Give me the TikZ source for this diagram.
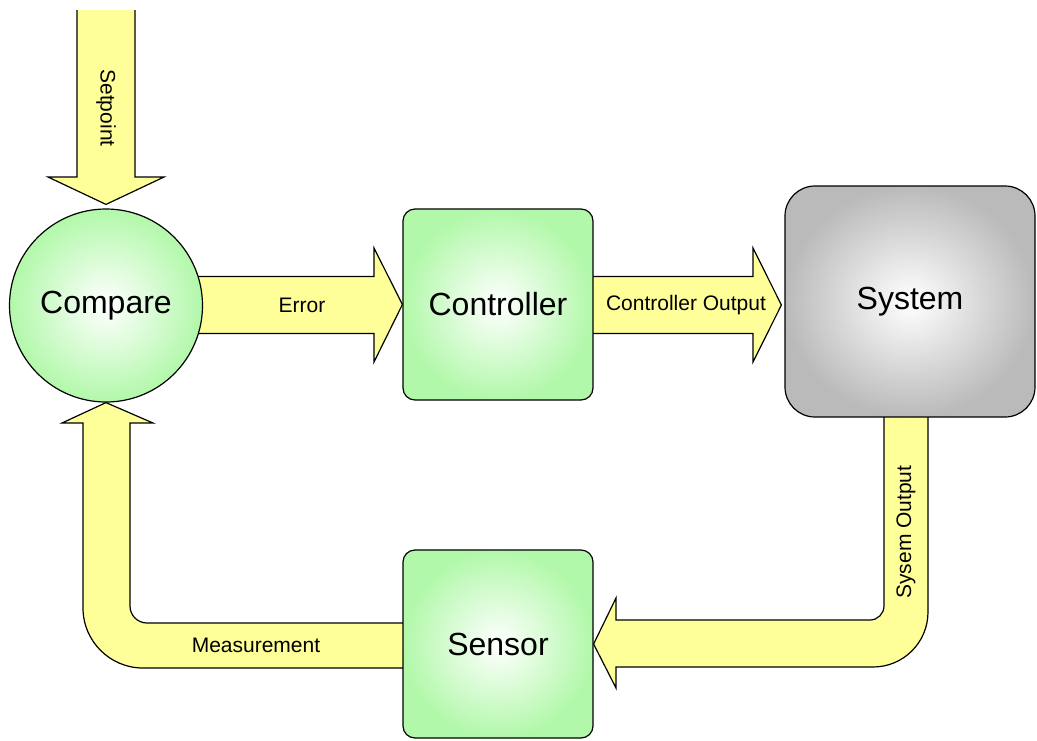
\documentclass[tikz,border=0pt]{standalone}
\usepackage{fontspec}
\setmainfont{Liberation Sans}
\usetikzlibrary{backgrounds,calc}
\definecolor{arrowyellow}{RGB}{255,255,153}
\definecolor{boxgreen}{RGB}{178,248,170}
\definecolor{boxgray}{RGB}{186,186,186}
\begin{document}
\begin{tikzpicture}[x=1pt, y=-1pt, line width=1.2pt,
  block/.style = {draw, rounded corners=12pt, inner sep=0pt,
    font=\fontsize{32}{38}\selectfont,
    shading=radial, inner color=white, outer color=boxgreen},
  sig/.style = {font=\fontsize{21}{25}\selectfont, inner sep=0pt},
  fatarrow/.style = {draw=black, line width=1.2pt, fill=arrowyellow}]
  \useasboundingbox (0,0) rectangle (1037,740);
  \node[block, circle, minimum size=193pt] (cmp) at (106,305.5) {Compare};
  \node[block, minimum width=190pt, minimum height=191pt] (ctl) at (498,304.5) {Controller};
  \node[block, minimum width=250pt, minimum height=231pt, rounded corners=30pt,
    outer color=boxgray] (sys) at (910,301.5) {System};
  \node[block, minimum width=190pt, minimum height=188pt] (sen) at (498,644) {Sensor};
  \begin{scope}[on background layer]
    \path[fatarrow] (77,10) -- (77,177) -- (48,177) -- ($(cmp.north)+(0,-4)$)
      -- (164,177) -- (135,177) -- (135,10);
    \path[fatarrow] (190,276.5) -- (374,276.5) -- (374,248) -- (ctl.west)
      -- (374,362) -- (374,333.5) -- (190,333.5);
    \path[fatarrow] (585,276.5) -- (753,276.5) -- (753,248) -- ($(sys.west)+(-3,3.5)$)
      -- (753,362) -- (753,333.5) -- (585,333.5);
    \path[fatarrow] (884,410) -- (884,606) .. controls (884,613.7) and (877.7,620) .. (870,620)
      -- (616,620) -- (616,598) -- (sen.east) -- (616,688) -- (616,667) -- (873,667)
      .. controls (903.4,667) and (928,642.4) .. (928,612) -- (928,410);
    \path[fatarrow] (410,623) -- (147,623) .. controls (137.6,623) and (130,615.4) .. (130,606)
      -- (130,423) -- (153,423) -- (cmp.south) -- (62,423) -- (83,423) -- (83,608)
      .. controls (83,641.1) and (109.9,668) .. (143,668) -- (410,668);
  \end{scope}
  \node[sig, rotate=-90] (sp) at (106,108) {Setpoint};
  \node[sig] (err) at (302,305) {Error};
  \node[sig] (co) at (686,305) {Controller Output};
  \node[sig, rotate=90] (so) at (906,532) {Sysem Output};
  \node[sig] (ms) at (256,645) {Measurement};
\end{tikzpicture}
\end{document}
